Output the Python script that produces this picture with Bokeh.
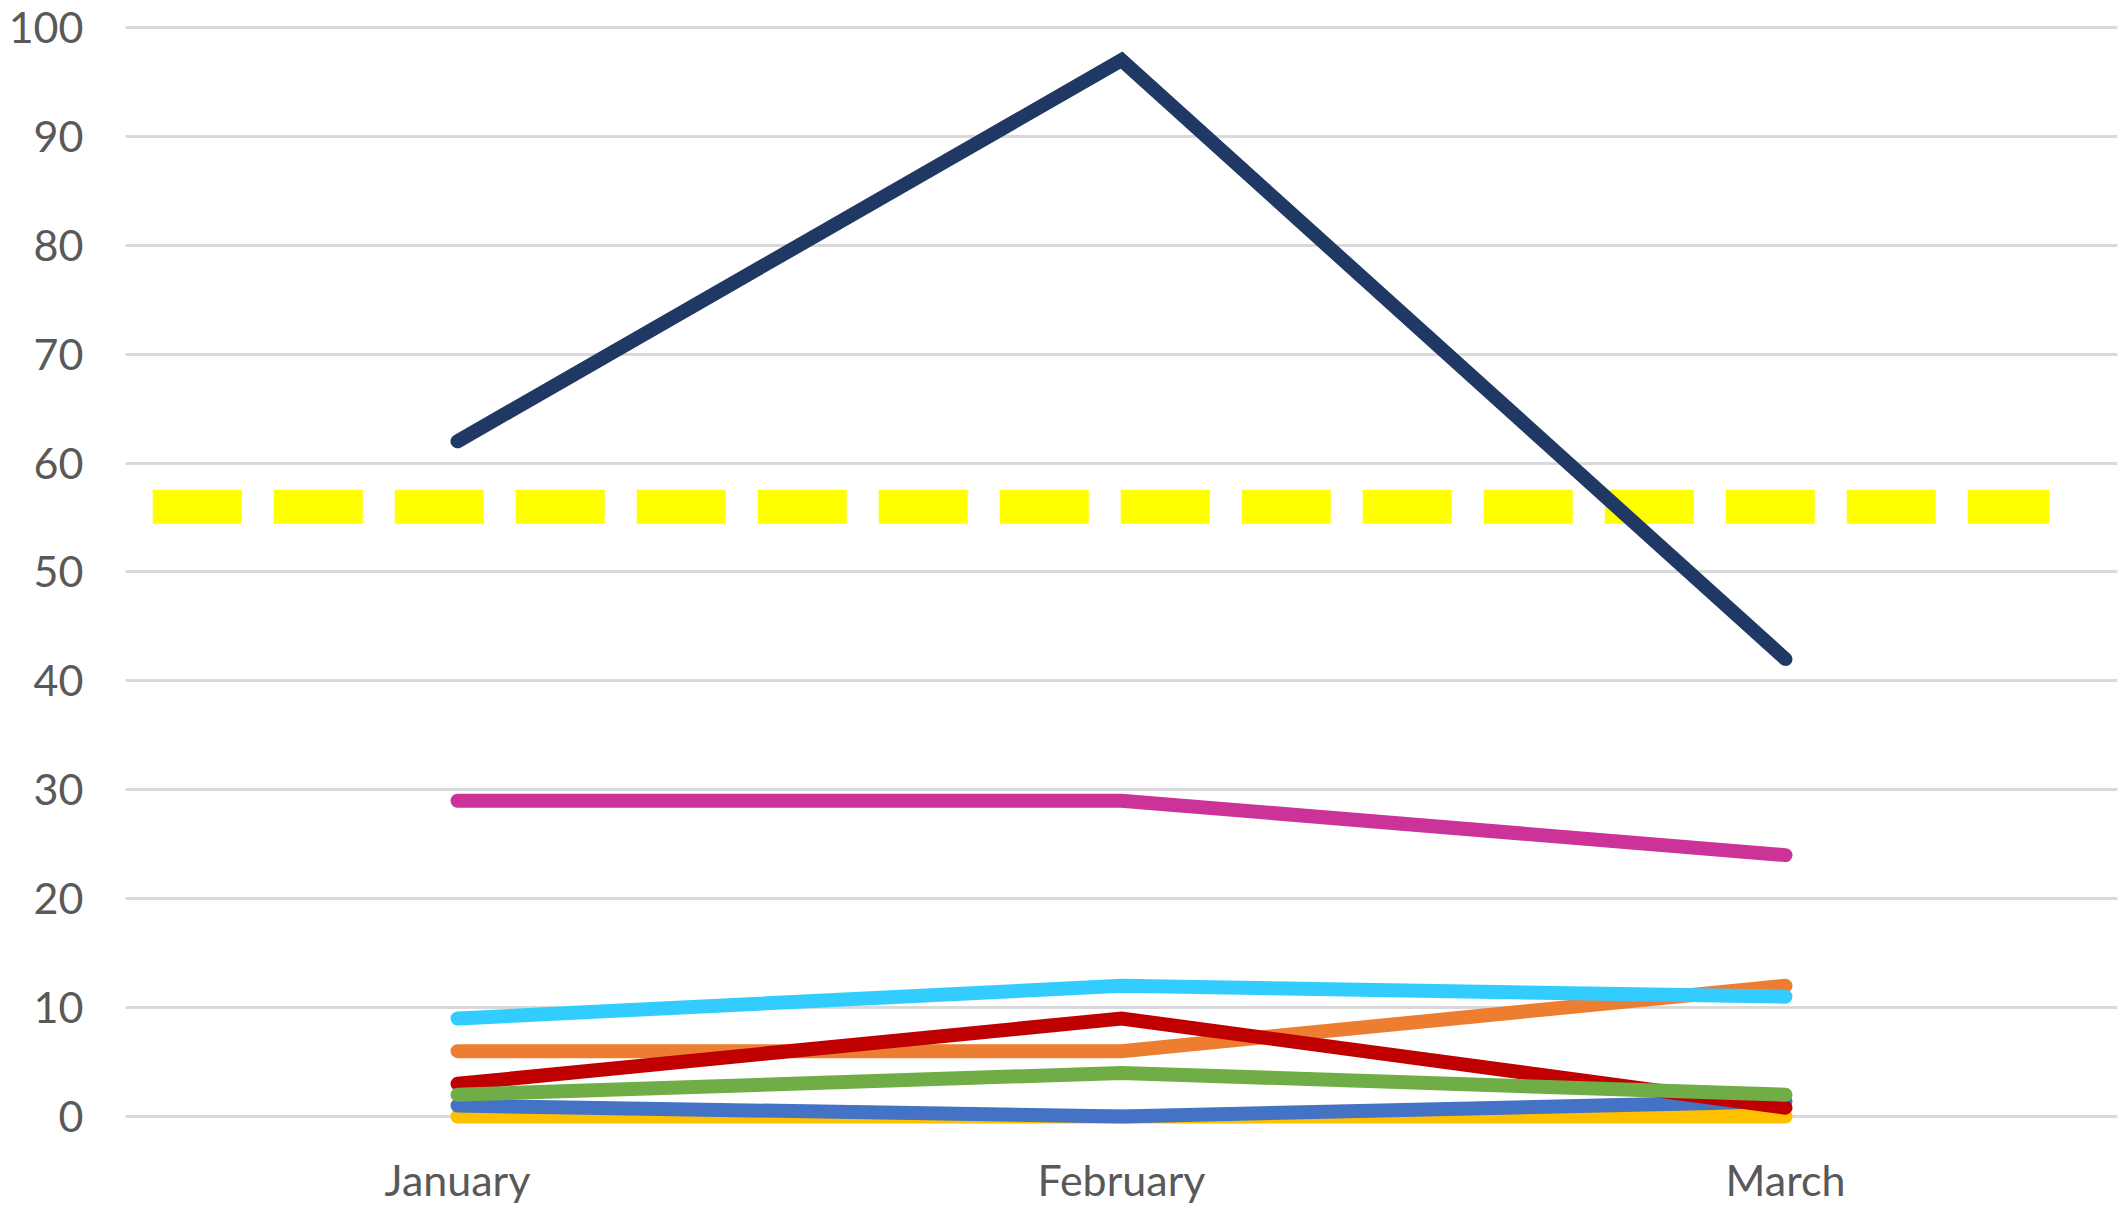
from bokeh.plotting import figure
from bokeh.models import FactorRange, Range1d, FixedTicker, ColumnDataSource
from bokeh.embed import file_html
from bokeh.resources import INLINE

months = ["January", "February", "March"]

series_gold = [0, 0, 0]
series_orange = [6, 6, 12]
series_blue = [1, 0, 1.4]
series_red = [3, 9, 0.8]
series_green = [2, 4, 2]
series_lightblue = [9, 12, 11]
series_magenta = [29, 29, 24]
series_navy = [62, 97, 42]
threshold = 56

y_ticks = [0, 10, 20, 30, 40, 50, 60, 70, 80, 90, 100]

p = figure(
    width=2121, height=1209,
    x_range=FactorRange(factors=months, range_padding=0),
    y_range=Range1d(-0.735, 101.01),
    output_backend="svg", toolbar_location=None,
    min_border_left=125, min_border_right=4, min_border_top=16, min_border_bottom=85,
)
p.outline_line_color = None
p.background_fill_color = "white"
p.border_fill_color = "white"

p.xgrid.grid_line_color = None
p.ygrid.grid_line_color = "#D9D9D9"
p.ygrid.grid_line_width = 3
p.yaxis.ticker = FixedTicker(ticks=y_ticks)

for ax in (p.xaxis[0], p.yaxis[0]):
    ax.axis_line_color = None
    ax.major_tick_line_color = None
    ax.minor_tick_line_color = None
    ax.major_tick_out = 0
    ax.major_tick_in = 0
    ax.minor_tick_out = 0
    ax.major_label_text_font = "Lato"
    ax.major_label_text_font_size = "43px"
    ax.major_label_text_color = "#595959"
p.yaxis.major_label_standoff = 42
p.xaxis.major_label_standoff = 29

# dashed threshold line
thr = ColumnDataSource(dict(x=[("January", -0.459), ("March", 0.397)], y=[threshold, threshold]))
p.line("x", "y", source=thr, line_color="#FFFF00", line_width=34, line_dash="89 32", line_cap="butt")

series = [
    (series_gold, "#FFC000"),
    (series_orange, "#ED7D31"),
    (series_blue, "#4472C4"),
    (series_red, "#C00000"),
    (series_green, "#70AD47"),
    (series_lightblue, "#33CCFF"),
    (series_magenta, "#CC3399"),
    (series_navy, "#203864"),
]
for vals, col in series:
    p.line(months, vals, line_color=col, line_width=14, line_cap="round", line_join="miter")

open("out.html", "w").write(file_html(p, INLINE))
